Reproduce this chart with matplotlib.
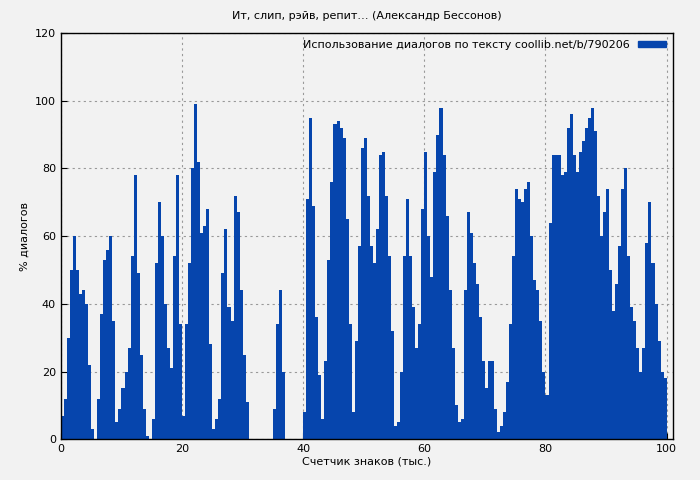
import numpy as np
import matplotlib
matplotlib.use("Agg")
import matplotlib.pyplot as plt
from matplotlib.patches import Patch

# sample positions (thousand chars), step 0.5
x_start = 0.0
x_step = 0.5
dialog_pct = [
    7, 12, 30, 50, 60, 50, 43, 44, 40, 22,          # 0 - 4.5
    3, 0, 12, 37, 53, 56, 60, 35, 5, 9,             # 5 - 9.5
    15, 20, 27, 54, 78, 49, 25, 9, 1, 0,            # 10 - 14.5
    6, 52, 70, 60, 40, 27, 21, 54, 78, 34,          # 15 - 19.5
    7, 34, 52, 80, 99, 82, 61, 63, 68, 28,          # 20 - 24.5
    3, 6, 12, 49, 62, 39, 35, 72, 67, 44,           # 25 - 29.5
    25, 11, 0, 0, 0, 0, 0, 0, 0, 0,                 # 30 - 34.5
    9, 34, 44, 20, 0, 0, 0, 0, 0, 0,                # 35 - 39.5
    8, 71, 95, 69, 36, 19, 6, 23, 53, 76,           # 40 - 44.5
    93, 94, 92, 89, 65, 34, 8, 29, 57, 86,          # 45 - 49.5
    89, 72, 57, 52, 62, 84, 85, 72, 54, 32,         # 50 - 54.5
    4, 5, 20, 54, 71, 54, 39, 27, 34, 68,           # 55 - 59.5
    85, 60, 48, 79, 90, 98, 84, 66, 44, 27,         # 60 - 64.5
    10, 5, 6, 44, 67, 61, 52, 46, 36, 23,           # 65 - 69.5
    15, 23, 23, 9, 2, 4, 8, 17, 34, 54,             # 70 - 74.5
    74, 71, 70, 74, 76, 60, 47, 44, 35, 20,         # 75 - 79.5
    13, 64, 84, 84, 84, 78, 79, 92, 96, 84,         # 80 - 84.5
    79, 85, 88, 92, 95, 98, 91, 72, 60, 67,         # 85 - 89.5
    74, 50, 38, 46, 57, 74, 80, 54, 39, 35,         # 90 - 94.5
    27, 20, 27, 58, 70, 52, 40, 29, 20, 18,         # 95 - 99.5
    17,                                             # 100
]
positions = x_start + x_step * np.arange(len(dialog_pct))

title = "Ит, слип, рэйв, репит… (Александр Бессонов)"
legend_label = "Использование диалогов по тексту coollib.net/b/790206"
bg = "#f2f2f2"
fill_color = "#0645ad"

plt.rcParams["font.family"] = ["DejaVu Sans"]
fig = plt.figure(figsize=(7, 4.8), dpi=100, facecolor=bg)
ax = fig.add_axes([0.087, 0.085, 0.874, 0.846], facecolor=bg)

ax.fill_between(positions, dialog_pct, step="post", color=fill_color, linewidth=0)

ax.set_xlim(0, 101)
ax.set_ylim(0, 120)
ax.set_xticks([0, 20, 40, 60, 80, 100])
ax.set_yticks(range(0, 121, 20))
ax.tick_params(labelsize=8, direction="in", length=4)
ax.grid(True, color="#999999", linestyle=(0, (2, 3)), linewidth=0.8)
ax.set_axisbelow(True)
for s in ax.spines.values():
    s.set_linewidth(1.0)

ax.set_title(title, fontsize=8, pad=10)
ax.set_xlabel("Счетчик знаков (тыс.)", fontsize=8, labelpad=2)
ax.set_ylabel("% диалогов", fontsize=8)

handle = Patch(color=fill_color, label=legend_label)
ax.legend(handles=[handle], loc="upper right", fontsize=8, frameon=False,
          handlelength=2.5, handleheight=0.4, markerfirst=False,
          borderaxespad=0.2)

fig.savefig("out.png", dpi=100, facecolor=bg)
